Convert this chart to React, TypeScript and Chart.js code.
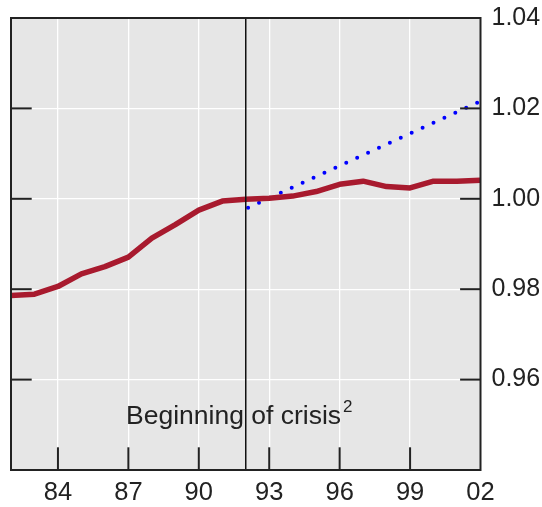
import React, { useEffect, useRef } from 'react';
import { Chart, registerables } from 'chart.js';

Chart.register(...registerables);

// ---- data ----
const years = [82, 83, 84, 85, 86, 87, 88, 89, 90, 91, 92, 93, 94, 95, 96, 97, 98, 99, 100, 101, 102];
const actualValues = [
  0.9786, 0.9789, 0.9806, 0.9834, 0.985, 0.9871, 0.9913, 0.9943, 0.9975, 0.9995, 0.9999,
  1.0001, 1.0006, 1.0016, 1.0032, 1.0039, 1.0027, 1.0024, 1.0039, 1.0039, 1.0041,
];
const trendYears = [92.1, 102];
const trendValues = [0.998, 1.0216];

const xTicks = [84, 87, 90, 93, 96, 99, 102];
const yTicks = [0.96, 0.98, 1.0, 1.02, 1.04];
const xMin = 82;
const xMax = 102;
const yMin = 0.94;
const yMax = 1.04;

const crisisYear = 92;
const crisisLabel = 'Beginning of crisis';
const crisisNote = '2';
const labelAtYear = 86.9;
const labelAtValue = 0.9501;

const FONT = '"Liberation Sans", Arial, sans-serif';

export default function App() {
  const ref = useRef<HTMLCanvasElement>(null);

  useEffect(() => {
    document.body.style.margin = '0';
    const canvas = ref.current;
    if (!canvas) return;

    const line = (ctx: CanvasRenderingContext2D, x1: number, y1: number, x2: number, y2: number) => {
      ctx.beginPath();
      ctx.moveTo(x1, y1);
      ctx.lineTo(x2, y2);
      ctx.stroke();
    };

    const framePlugin = {
      id: 'framePlugin',
      beforeDraw(chart: any) {
        const { ctx, chartArea: a } = chart;
        ctx.save();
        ctx.fillStyle = '#e6e6e6';
        ctx.fillRect(a.left, a.top, a.right - a.left, a.bottom - a.top);
        ctx.restore();
      },
      afterDatasetsDraw(chart: any) {
        const { ctx, chartArea: a, scales } = chart;
        const xs = scales.x;
        const ys = scales.y;
        ctx.save();
        // crisis marker
        const cx = xs.getPixelForValue(crisisYear);
        ctx.strokeStyle = '#111';
        ctx.lineWidth = 1.5;
        line(ctx, cx, a.top, cx, a.bottom);
        // inward tick marks
        ctx.strokeStyle = '#222';
        ctx.lineWidth = 2;
        xTicks.forEach((v) => {
          if (v >= xs.max) return;
          const px = xs.getPixelForValue(v);
          line(ctx, px, a.bottom, px, a.bottom - 22.7);
        });
        yTicks.forEach((v) => {
          if (v >= ys.max) return;
          const py = ys.getPixelForValue(v);
          line(ctx, a.left, py, a.left + 20.7, py);
          line(ctx, a.right, py, a.right - 20.4, py);
        });
        // frame
        ctx.strokeRect(a.left, a.top, a.right - a.left, a.bottom - a.top);
        // annotation
        const lx = xs.getPixelForValue(labelAtYear);
        const ly = ys.getPixelForValue(labelAtValue);
        ctx.fillStyle = '#222';
        ctx.textBaseline = 'alphabetic';
        ctx.textAlign = 'left';
        ctx.font = `26.5px ${FONT}`;
        ctx.fillText(crisisLabel, lx, ly);
        const w = ctx.measureText(crisisLabel).width;
        ctx.font = `17px ${FONT}`;
        ctx.fillText(crisisNote, lx + w + 2, ly - 12);
        ctx.restore();
      },
    };

    const chart = new Chart(canvas, {
      type: 'line',
      data: {
        datasets: [
          {
            label: 'Actual',
            data: years.map((y, i) => ({ x: y, y: actualValues[i] })),
            borderColor: '#a81a2e',
            borderWidth: 5.5,
            pointRadius: 0,
            tension: 0,
            borderJoinStyle: 'round',
            borderCapStyle: 'butt',
          },
          {
            label: 'Trend',
            data: trendYears.map((y, i) => ({ x: y, y: trendValues[i] })),
            borderColor: '#0000ff',
            borderWidth: 4,
            borderDash: [0, 12],
            borderCapStyle: 'round',
            pointRadius: 0,
            tension: 0,
          },
        ],
      },
      options: {
        animation: false,
        responsive: false,
        layout: { padding: { left: 11, top: 18, right: 0, bottom: 0 } },
        plugins: { legend: { display: false }, tooltip: { enabled: false } },
        scales: {
          x: {
            type: 'linear',
            min: xMin,
            max: xMax,
            afterBuildTicks: (s: any) => {
              s.ticks = xTicks.map((v) => ({ value: v }));
            },
            afterFit: (s: any) => {
              s.height = 37;
              s.paddingLeft = 0;
              s.paddingRight = 0;
            },
            ticks: {
              autoSkip: false,
              maxRotation: 0,
              padding: 9,
              color: '#222',
              font: { family: FONT, size: 25.5, lineHeight: 1.1 },
              callback: (v: any) => String(Number(v) % 100).padStart(2, '0'),
            },
            grid: { color: '#ffffff', lineWidth: 1.3, drawTicks: false },
            border: { display: false },
          },
          y: {
            position: 'right',
            min: yMin,
            max: yMax,
            afterBuildTicks: (s: any) => {
              s.ticks = yTicks.map((v) => ({ value: v }));
            },
            afterFit: (s: any) => {
              s.width = 61.5;
              s.paddingTop = 0;
              s.paddingBottom = 0;
            },
            ticks: {
              padding: 11,
              color: '#222',
              font: { family: FONT, size: 25 },
              callback: (v: any) => Number(v).toFixed(2),
            },
            grid: { color: '#ffffff', lineWidth: 1.3, drawTicks: false },
            border: { display: false },
          },
        },
      },
      plugins: [framePlugin],
    });

    return () => chart.destroy();
  }, []);

  return <canvas ref={ref} width={542} height={507} style={{ display: 'block', width: 542, height: 507 }} />;
}
